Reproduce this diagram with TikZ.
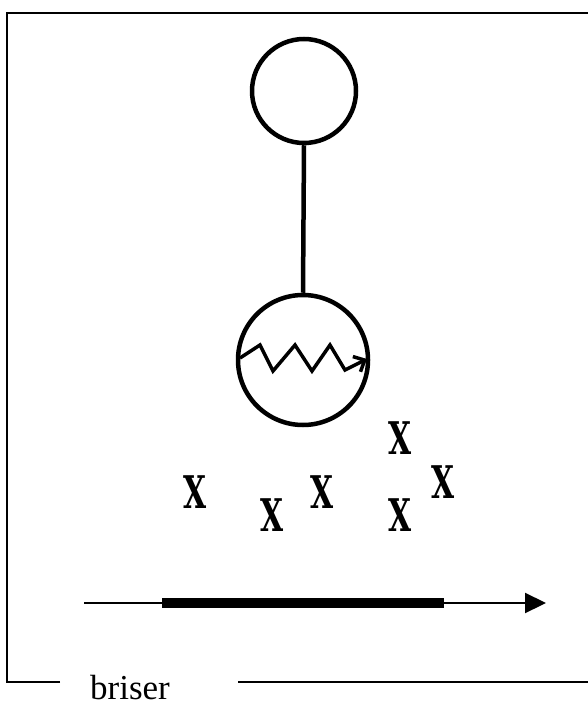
\documentclass[tikz,border=0pt]{standalone}
\usepackage{fontspec}
\setmainfont{Liberation Serif}
\newfontfamily\xfont{DejaVu Serif}
\usetikzlibrary{arrows.meta}
\tikzset{
  ring/.style={circle, draw, line width=4.5pt, inner sep=0pt},
  xmark/.style={font=\xfont\fontsize{45}{45}\bfseries\selectfont, inner sep=0pt, xscale=0.66},
  frameline/.style={line width=2.2pt},
}
\begin{document}
\begin{tikzpicture}[x=1pt, y=-1pt]
\useasboundingbox (0,0) rectangle (588,706);
% frame
\draw[frameline] (60,682) -- (7,682) -- (7,13) -- (588,13);
\draw[frameline] (238,682) -- (588,682);
\node[anchor=base, inner sep=0pt, font=\fontsize{35}{38}\selectfont] (lbl) at (130,699) {briser};
% circles
\node[ring, minimum size=104pt] (top) at (304,91) {};
\node[ring, minimum size=130pt] (bot) at (303,360) {};
\draw[line width=4.5pt] (top.south) -- (bot.north);
% zigzag arrow
\draw[line width=3.5pt, line join=miter, -{Straight Barb[length=9pt,width=17pt,line width=3.5pt]}]
  (240,358) -- (260,345) -- (273,371) -- (295,345) -- (312,371) -- (330,345) -- (345,370) -- (367,359);
% X marks
\node[xmark] (x1) at (195,492) {X};
\node[xmark] (x2) at (272,515) {X};
\node[xmark] (x3) at (322,492) {X};
\node[xmark] (x4) at (400,438) {X};
\node[xmark] (x5) at (443,482) {X};
\node[xmark] (x6) at (400,515) {X};
% axis arrow
\coordinate (a0) at (84,603);
\coordinate (a1) at (546,603);
\coordinate (b0) at (162,603);
\coordinate (b1) at (444,603);
\draw[line width=2.2pt, -{Triangle[length=21pt,width=20pt]}] (a0) -- (a1);
\draw[line width=10pt] (b0) -- (b1);
\end{tikzpicture}
\end{document}
